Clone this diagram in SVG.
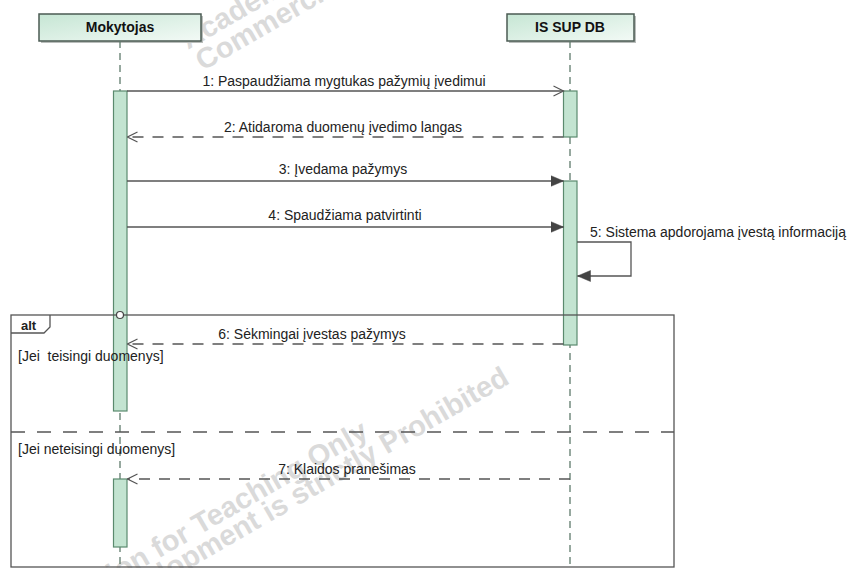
<svg xmlns="http://www.w3.org/2000/svg" width="858" height="568" viewBox="0 0 858 568">
  <defs>
    <linearGradient id="headFill" x1="0" y1="0" x2="1" y2="1">
      <stop offset="0" stop-color="#c6e6d4"/>
      <stop offset="1" stop-color="#f3faf6"/>
    </linearGradient>
    <marker id="open" markerWidth="12" markerHeight="12" viewBox="0 0 12 12" refX="11" refY="6" orient="auto" markerUnits="userSpaceOnUse">
      <path d="M1,1 L11,6 L1,11" fill="none" stroke="#555" stroke-width="1.2"/>
    </marker>
    <marker id="filled" markerWidth="14" markerHeight="12" viewBox="0 0 14 12" refX="13" refY="6" orient="auto" markerUnits="userSpaceOnUse">
      <path d="M0,0.5 L13,6 L0,11.5 Z" fill="#444" stroke="#444" stroke-width="0.5"/>
    </marker>
    <style>
      text { font-family: "Liberation Sans", Arial, sans-serif; fill: #222; }
      .head { fill: url(#headFill); stroke: #4b5b53; stroke-width: 1.5; }
      .shadow { fill: #b9bdbb; }
      .title { font-size: 14px; font-weight: bold; text-anchor: middle; fill: #111; }
      .life { stroke: #5f7a6c; stroke-width: 1.3; stroke-dasharray: 7 5; fill: none; }
      .act { fill: #c3e4d1; stroke: #5b8a6e; stroke-width: 1.2; }
      .msg { stroke: #555; stroke-width: 1.3; fill: none; }
      .ret { stroke: #555; stroke-width: 1.3; fill: none; stroke-dasharray: 11 9; }
      .lbl { font-size: 14px; }
      .mid { text-anchor: middle; }
      .frame { fill: none; stroke: #555; stroke-width: 1.3; }
      .div { stroke: #555; stroke-width: 1.3; stroke-dasharray: 14 12; fill: none; }
      .wm { font-size: 29px; font-weight: bold; fill: #dadada; }
    </style>
  </defs>

  <rect width="858" height="568" fill="#ffffff"/>

  <!-- watermark -->
  <g id="watermark" transform="rotate(-30)">
    <text class="wm" x="138" y="137">Academic Version for Teaching Only</text>
    <text class="wm" x="140" y="163">Commercial Development is strictly Prohibited</text>
    <text class="wm" x="-400" y="563">Academic Version for Teaching Only</text>
    <text class="wm" x="-392" y="587">Commercial Development is strictly Prohibited</text>
  </g>

  <!-- lifeline Mokytojas -->
  <g id="mokytojas">
    <rect class="shadow" x="41" y="16" width="162" height="27"/>
    <rect class="head" x="39" y="14" width="162" height="27"/>
    <text class="title" x="120" y="32">Mokytojas</text>
    <line class="life" x1="120" y1="41" x2="120" y2="568"/>
    <rect class="act" x="113.5" y="91" width="13.5" height="320"/>
    <rect class="act" x="113.5" y="479" width="13.5" height="68"/>
  </g>

  <!-- lifeline IS SUP DB -->
  <g id="is-sup-db">
    <rect class="shadow" x="509" y="16" width="127" height="27"/>
    <rect class="head" x="507" y="14" width="127" height="27"/>
    <text class="title" x="570" y="32">IS SUP DB</text>
    <line class="life" x1="570" y1="41" x2="570" y2="568"/>
    <rect class="act" x="563.5" y="91" width="13.5" height="46"/>
    <rect class="act" x="563.5" y="181" width="13.5" height="164"/>
  </g>

  <!-- alt combined fragment -->
  <g id="alt-fragment">
    <rect class="frame" x="11" y="315" width="663" height="252"/>
    <path class="frame" d="M11,333 H44 L50,327 V315"/>
    <text x="21" y="330" font-size="13" font-weight="bold" fill="#111">alt</text>
    <line class="div" x1="11" y1="432" x2="674" y2="432"/>
    <text class="lbl" x="18" y="361" xml:space="preserve">[Jei  teisingi duomenys]</text>
    <text class="lbl" x="18" y="454">[Jei neteisingi duomenys]</text>
    <circle cx="120" cy="315" r="3.5" fill="#fff" stroke="#444" stroke-width="1.2"/>
  </g>

  <!-- messages -->
  <g id="connectors">
    <line class="msg" x1="127" y1="91" x2="563.5" y2="91" marker-end="url(#open)"/>
    <text class="lbl mid" x="344" y="86">1: Paspaudžiama mygtukas pažymių įvedimui</text>

    <line class="ret" x1="563.5" y1="137" x2="127.5" y2="137" marker-end="url(#open)"/>
    <text class="lbl mid" x="343" y="132">2: Atidaroma duomenų įvedimo langas</text>

    <line class="msg" x1="127" y1="181" x2="563.5" y2="181" marker-end="url(#filled)"/>
    <text class="lbl mid" x="343" y="174">3: Įvedama pažymys</text>

    <line class="msg" x1="127" y1="227" x2="563.5" y2="227" marker-end="url(#filled)"/>
    <text class="lbl mid" x="345" y="220">4: Spaudžiama patvirtinti</text>

    <path class="msg" d="M577,242 H631 V276 H577.5" marker-end="url(#filled)"/>
    <text class="lbl" x="590" y="237">5: Sistema apdorojama įvestą informaciją</text>

    <line class="ret" x1="563.5" y1="344" x2="127.5" y2="344" marker-end="url(#open)"/>
    <text class="lbl mid" x="312" y="339">6: Sėkmingai įvestas pažymys</text>

    <line class="ret" x1="570" y1="479" x2="127.5" y2="479" marker-end="url(#open)"/>
    <text class="lbl mid" x="347" y="474">7: Klaidos pranešimas</text>
  </g>
</svg>
